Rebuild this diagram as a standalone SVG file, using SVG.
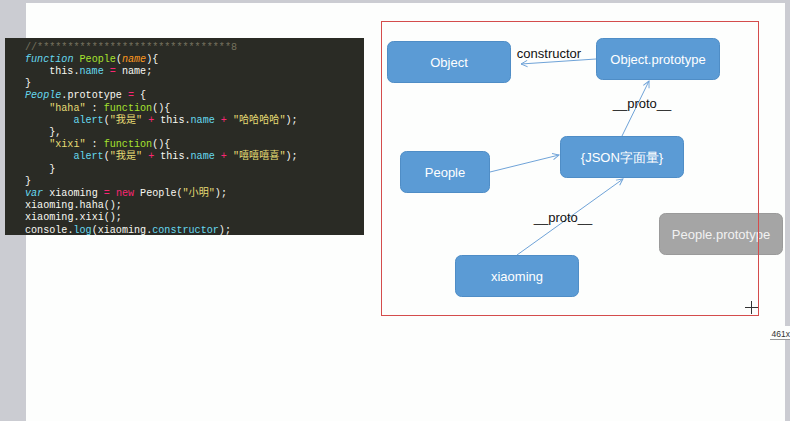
<svg xmlns="http://www.w3.org/2000/svg" width="790" height="421" viewBox="0 0 790 421">
<defs>
<style>
.box{fill:#5b9bd5;stroke:#4f8dc6;stroke-width:1}
.gbox{fill:#a5a5a5;stroke:#9a9a9a;stroke-width:1}
.lbl{font-family:"Liberation Sans",Arial,sans-serif;font-size:13px;fill:#ffffff;text-anchor:middle}
.glbl{font-family:"Liberation Sans",Arial,sans-serif;font-size:13px;fill:#f2f2f2;text-anchor:middle}
.elbl{font-family:"Liberation Sans",Arial,sans-serif;font-size:13px;fill:#111111;text-anchor:middle}
.edge{stroke:#6fa3d8;stroke-width:1;fill:none;marker-end:url(#arr)}
.code{font-family:"Liberation Mono","Noto Sans CJK SC",monospace;font-size:10.1px;fill:#f8f8f2}
.cm{fill:#75715e}
.kw{fill:#66d9ef;font-style:italic}
.fn{fill:#a6e22e}
.pa{fill:#fd971f;font-style:italic}
.op{fill:#f92672}
.st{fill:#e6db74}
.cy{fill:#66d9ef}
</style>
<marker id="arr" viewBox="0 0 10 10" refX="9" refY="5" markerWidth="8" markerHeight="8" markerUnits="userSpaceOnUse" orient="auto">
<path d="M1,1 L9,5 L1,9" fill="none" stroke="#6fa3d8" stroke-width="1.2"/>
</marker>
</defs>
<rect x="0" y="0" width="790" height="421" fill="#cbccd2"/>
<rect x="26" y="3" width="759" height="418" fill="#fdfefd"/>

<g id="code">
<rect x="5" y="38" width="359" height="197" fill="#2a2b25"/>
<text class="code" xml:space="preserve">
<tspan x="25" y="49.5" class="cm">//********************************8</tspan>
<tspan x="25" y="61.7"><tspan class="kw">function</tspan> <tspan class="fn">People</tspan>(<tspan class="pa">name</tspan>){</tspan>
<tspan x="49.2" y="73.9">this.<tspan class="cy">name</tspan> <tspan class="op">=</tspan> name;</tspan>
<tspan x="25" y="86.1">}</tspan>
<tspan x="25" y="98.3"><tspan class="kw">People</tspan>.prototype <tspan class="op">=</tspan> {</tspan>
<tspan x="49.2" y="110.5"><tspan class="st">"haha"</tspan> : <tspan class="fn">function</tspan>(){</tspan>
<tspan x="73.4" y="122.7"><tspan class="cy">alert</tspan>(<tspan class="st">"我是"</tspan> <tspan class="op">+</tspan> this.<tspan class="cy">name</tspan> <tspan class="op">+</tspan> <tspan class="st">"哈哈哈哈"</tspan>);</tspan>
<tspan x="49.2" y="134.9">},</tspan>
<tspan x="49.2" y="147.1"><tspan class="st">"xixi"</tspan> : <tspan class="fn">function</tspan>(){</tspan>
<tspan x="73.4" y="159.3"><tspan class="cy">alert</tspan>(<tspan class="st">"我是"</tspan> <tspan class="op">+</tspan> this.<tspan class="cy">name</tspan> <tspan class="op">+</tspan> <tspan class="st">"嘻嘻嘻喜"</tspan>);</tspan>
<tspan x="49.2" y="171.5">}</tspan>
<tspan x="25" y="183.7">}</tspan>
<tspan x="25" y="195.9"><tspan class="kw">var</tspan> xiaoming <tspan class="op">=</tspan> <tspan class="op">new</tspan> People(<tspan class="st">"小明"</tspan>);</tspan>
<tspan x="25" y="208.1">xiaoming.haha();</tspan>
<tspan x="25" y="220.3">xiaoming.xixi();</tspan>
<tspan x="25" y="232.5">console.<tspan class="cy">log</tspan>(xiaoming.<tspan class="cy">constructor</tspan>);</tspan>
</text>
</g>

<g id="Object">
<rect class="box" x="387.5" y="41.5" width="123" height="41" rx="6"/>
<text class="lbl" x="449" y="67">Object</text>
</g>
<g id="ObjectPrototype">
<rect class="box" x="596.5" y="38.5" width="123" height="41" rx="6"/>
<text class="lbl" x="658" y="64">Object.prototype</text>
</g>
<g id="JSON">
<rect class="box" x="560.5" y="136.5" width="123" height="41" rx="6"/>
<text class="lbl" x="622" y="162">{JSON字面量}</text>
</g>
<g id="People">
<rect class="box" x="400.5" y="151.5" width="89" height="41" rx="6"/>
<text class="lbl" x="445" y="177">People</text>
</g>
<g id="xiaoming">
<rect class="box" x="455.5" y="255.5" width="123" height="41" rx="6"/>
<text class="lbl" x="517" y="281">xiaoming</text>
</g>
<g id="PeoplePrototype">
<rect class="gbox" x="659.5" y="213.5" width="123" height="41" rx="6"/>
<text class="glbl" x="721" y="239">People.prototype</text>
</g>

<g id="connectors">
<line class="edge" x1="596" y1="59" x2="521" y2="64"/>
<text class="elbl" x="549" y="58">constructor</text>
<line class="edge" x1="622" y1="136" x2="649" y2="81"/>
<text class="elbl" x="642" y="108">__proto__</text>
<line class="edge" x1="490" y1="172" x2="559" y2="155"/>
<line class="edge" x1="517" y1="255" x2="623" y2="179"/>
<text class="elbl" x="563" y="222">__proto__</text>
</g>

<rect x="381.5" y="21.5" width="377" height="294" fill="none" stroke="#d44c4c" stroke-width="1"/>
<g stroke="#333" stroke-width="1">
<line x1="745" y1="307.5" x2="758" y2="307.5"/>
<line x1="751.5" y1="301" x2="751.5" y2="314"/>
</g>
<rect x="770" y="326" width="20" height="13" fill="#fdfefd"/>
<line x1="770" y1="339.5" x2="790" y2="339.5" stroke="#999" stroke-width="1"/>
<text x="771.5" y="337" font-family="'Liberation Sans',Arial,sans-serif" font-size="8.5" fill="#333">461x</text>
</svg>
